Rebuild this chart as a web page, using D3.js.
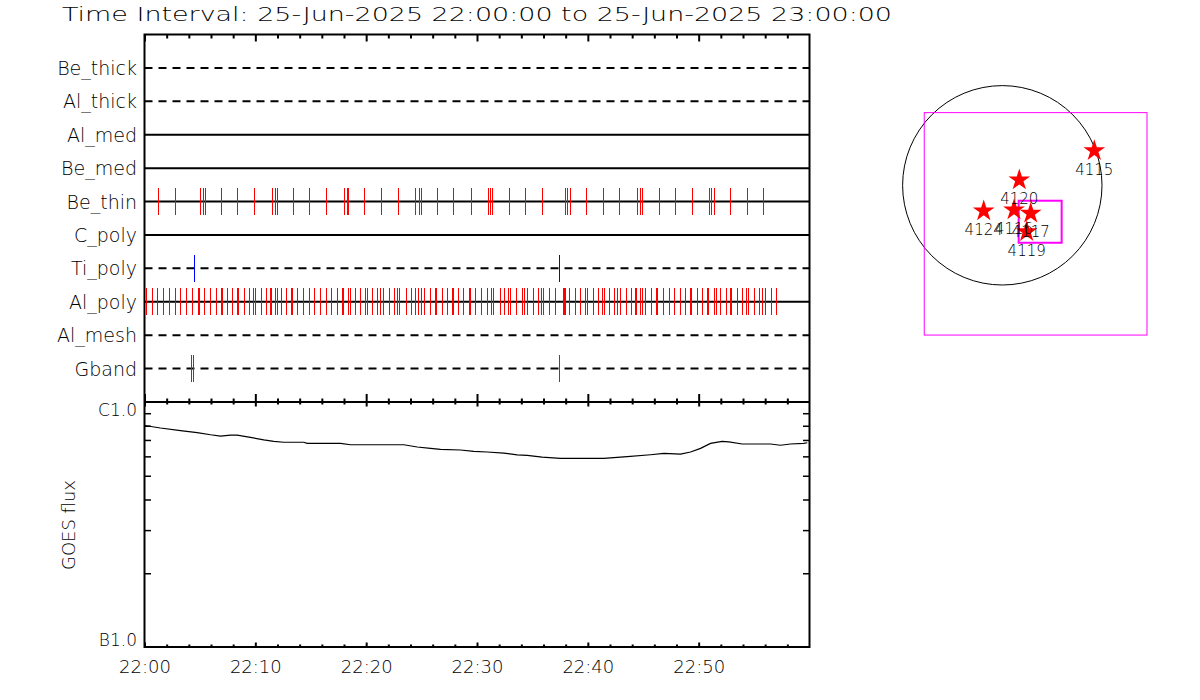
<!DOCTYPE html>
<html><head><meta charset="utf-8">
<script src="https://cdn.jsdelivr.net/npm/d3@7"></script>
<style>
body{margin:0;background:#fff;}
svg{display:block;font-family:"DejaVu Sans","Liberation Sans",sans-serif;font-weight:200;}
</style></head><body>
<svg id="chart" width="1200" height="700"></svg>
<script>
// ---------------- DATA ----------------
const titleText = "Time Interval: 25-Jun-2025 22:00:00 to 25-Jun-2025 23:00:00";
const detectorRows = ["Be_thick","Al_thick","Al_med","Be_med","Be_thin","C_poly","Ti_poly","Al_poly","Al_mesh","Gband"];
// event times, minutes after 22:00 UT
const beThinMinutes = [1.29,2.82,5.08,5.35,5.53,6.97,8.42,9.95,11.52,11.85,12.00,13.47,14.91,16.42,18.07,18.34,18.43,19.88,21.41,22.95,24.48,24.81,25.02,26.46,27.91,29.46,31.07,31.25,31.43,32.91,34.40,35.94,38.01,38.19,38.41,39.91,41.44,42.89,44.51,44.73,44.93,46.44,47.94,49.47,51.01,51.19,51.40,52.90,54.44,55.88];
const tiPolyMinutes = [4.53,37.48];
const alPolyMinutes = [0.21,0.69,1.20,1.71,2.23,2.77,3.28,3.76,4.36,4.87,4.99,5.44,5.93,6.47,6.92,7.01,7.52,7.97,8.36,8.51,9.05,9.47,9.86,10.02,10.58,11.04,11.40,11.49,11.79,11.97,12.33,12.81,13.29,13.38,13.83,14.32,14.86,15.31,15.85,16.39,16.90,17.39,17.89,17.98,18.43,18.61,19.07,19.49,19.91,20.09,20.60,21.05,21.29,21.59,22.13,22.56,22.86,23.04,23.61,24.12,24.48,24.75,24.97,25.29,25.78,26.28,26.37,26.92,27.31,27.82,27.91,28.36,28.81,29.35,29.44,29.89,30.43,30.92,30.98,31.31,31.49,32.09,32.51,32.87,33.05,33.59,34.08,34.31,34.59,35.13,35.55,35.82,36.00,36.57,37.06,37.83,37.92,38.01,38.37,38.92,39.37,39.82,39.97,40.54,40.94,41.35,41.48,41.98,42.44,42.71,42.98,43.49,43.97,44.33,44.42,44.78,44.96,45.18,45.77,46.20,46.29,46.80,47.34,47.85,48.39,48.84,49.29,49.38,49.92,50.38,50.83,50.92,51.40,51.58,52.00,52.54,52.85,52.99,53.51,53.98,54.35,54.50,55.04,55.52,55.76,56.03,56.60,57.03];
const gbandMinutes = [4.27,4.42,37.43];
// GOES flux curve
const goesMinutes = [0,1.44,3.25,4.75,5.96,6.86,7.76,8.36,9.56,10.76,11.67,12.57,14.37,14.68,17.68,18.59,23.40,24.61,25.81,26.71,28.51,29.71,30.92,32.42,33.63,34.53,35.88,37.54,41.44,43.55,45.66,46.86,48.36,49.27,50.17,51.07,52.12,52.72,53.93,56.48,57.38,58.28,59.49,59.80];
const goesFlux = [8.02e-7,7.83e-7,7.64e-7,7.50e-7,7.35e-7,7.26e-7,7.33e-7,7.33e-7,7.17e-7,7.00e-7,6.91e-7,6.85e-7,6.85e-7,6.78e-7,6.78e-7,6.69e-7,6.69e-7,6.55e-7,6.47e-7,6.41e-7,6.37e-7,6.29e-7,6.25e-7,6.19e-7,6.08e-7,6.06e-7,5.96e-7,5.89e-7,5.89e-7,5.98e-7,6.09e-7,6.17e-7,6.13e-7,6.25e-7,6.47e-7,6.78e-7,6.91e-7,6.87e-7,6.74e-7,6.74e-7,6.66e-7,6.74e-7,6.78e-7,6.82e-7];
const goesTickValues = [1e-7,1e-6];
const goesTickLabels = ["B1.0","C1.0"];
const goesMinorValues = [2e-7,3e-7,4e-7,5e-7,6e-7,7e-7,8e-7,9e-7];
const xTickLabels = ["22:00","22:10","22:20","22:30","22:40","22:50"];
const yAxisTitle = "GOES flux";
// solar map (arcsec)
const solarRadius = 944;
const arNumbers = ["4115","4120","4124","4116","4117","4119"];
const arX = [871,161,-176,111,269,231];
const arY = [328,50,-243,-234,-265,-439];
const fovX = [-739,1370], fovY = [688,-1418];
const subFovX = [155,562], subFovY = [-146,-544];

// ---------------- STYLE ----------------
const dashedRows = new Set(["Be_thick","Al_thick","Ti_poly","Al_mesh","Gband"]);
const RED = "#ff0000", BLUE = "#0000ff", MAGENTA = "#ff00ff";
const rowEvents = [
  {row:"Be_thin", times:beThinMinutes, color:RED},
  {row:"Ti_poly", times:tiPolyMinutes, color:BLUE},
  {row:"Al_poly", times:alPolyMinutes, color:RED},
  {row:"Gband",   times:gbandMinutes,  color:RED}
];

// ---------------- DRAW ----------------
const svg = d3.select("#chart");
const t0 = new Date(Date.UTC(2025,5,25,22,0,0));
const t1 = new Date(Date.UTC(2025,5,25,23,0,0));
const tm = m => new Date(t0.getTime() + m*60000);
const L = 144.5, R = 809.5, TOP = 34.5, MID = 402, BOT = 647;

const x = d3.scaleUtc().domain([t0,t1]).range([L,R]);
const yRow = d3.scalePoint().domain(detectorRows).range([TOP,MID]).padding(1);
const yG = d3.scaleLog().domain([1e-7,1e-6]).range([BOT,MID]);
const crisp = v => Math.round(v - 0.5) + 0.5;

// title
svg.append("text").attr("x",62).attr("y",21).attr("font-size",20)
  .attr("textLength",830).attr("lengthAdjust","spacingAndGlyphs")
  .text(titleText);

// row lines
const rows = svg.append("g");
rows.selectAll("line").data(detectorRows).join("line")
  .attr("x1",L).attr("x2",R)
  .attr("y1",d=>yRow(d)).attr("y2",d=>yRow(d))
  .attr("stroke","#000").attr("stroke-width",2)
  .attr("stroke-dasharray",d=>dashedRows.has(d)?"8,6":null);
rows.selectAll("text").data(detectorRows).join("text")
  .attr("x",137).attr("y",d=>yRow(d)+7).attr("text-anchor","end")
  .attr("font-size",19).text(d=>d);

// event ticks
const ev = svg.append("g").attr("shape-rendering","crispEdges");
rowEvents.forEach(e=>{
  ev.append("g").selectAll("line").data(e.times).join("line")
    .attr("x1",d=>crisp(x(tm(d)))).attr("x2",d=>crisp(x(tm(d))))
    .attr("y1",yRow(e.row)-13.5).attr("y2",yRow(e.row)+13.5)
    .attr("stroke",e.color).attr("stroke-width",1);
});

// time axes
const majorT = d3.utcMinute.every(10).range(t0,t1);
const minorT = d3.utcMinute.every(2).range(t0,t1).filter(d=>d.getUTCMinutes()%10!==0);
function tickAxis(gen, y, vals, size){
  svg.append("g").attr("transform",`translate(0,${y})`)
    .call(gen(x).tickValues(vals).tickSizeInner(size).tickSizeOuter(0).tickFormat(""))
    .call(g=>{g.select(".domain").remove(); g.selectAll("line").attr("stroke","#000").attr("stroke-width",2);});
}
tickAxis(d3.axisBottom, TOP, majorT, 7);
tickAxis(d3.axisBottom, TOP, minorT, 4);
tickAxis(d3.axisTop, MID, majorT, 8);
tickAxis(d3.axisTop, MID, minorT, 3.5);
tickAxis(d3.axisBottom, MID, majorT, 4.5);
tickAxis(d3.axisBottom, MID, minorT, 2.5);
tickAxis(d3.axisTop, BOT, majorT, 4.5);
tickAxis(d3.axisTop, BOT, minorT, 2.5);
svg.append("g").attr("transform",`translate(0,${BOT})`)
  .call(d3.axisBottom(x).tickValues(majorT).tickSize(0).tickPadding(13)
        .tickFormat((d,i)=>xTickLabels[i]))
  .call(g=>{
    g.attr("font-family",null).attr("font-size",null);
    g.select(".domain").remove();
    g.selectAll("text").attr("font-size",18).attr("fill","#000");
  });

// GOES log axes
function yAxis(gen, xpos){
  svg.append("g").attr("transform",`translate(${xpos},0)`)
    .call(gen(yG).tickValues(goesMinorValues).tickSizeInner(-6.5).tickSizeOuter(0).tickFormat(""))
    .call(g=>{g.select(".domain").remove(); g.selectAll("line").attr("stroke","#000").attr("stroke-width",1.5);});
}
yAxis(d3.axisLeft, L);
yAxis(d3.axisRight, R);
svg.append("g").selectAll("text").data(goesTickValues).join("text")
  .attr("x",137).attr("text-anchor","end").attr("font-size",17)
  .attr("y",(d,i)=> i===0 ? yG(d)-1 : yG(d)+14)
  .text((d,i)=>goesTickLabels[i]);
svg.append("text").attr("transform",`translate(75,525) rotate(-90)`)
  .attr("text-anchor","middle").attr("font-size",18).text(yAxisTitle);

// GOES curve
const goesPts = goesMinutes.map((m,i)=>[tm(m), goesFlux[i]]);
svg.append("path").datum(goesPts)
  .attr("d",d3.line().x(d=>x(d[0])).y(d=>yG(d[1])))
  .attr("fill","none").attr("stroke","#000").attr("stroke-width",1.2);

// frames
svg.append("rect").attr("x",L).attr("y",TOP).attr("width",R-L).attr("height",BOT-TOP)
  .attr("fill","none").attr("stroke","#000").attr("stroke-width",2);
svg.append("line").attr("x1",L).attr("x2",R).attr("y1",MID).attr("y2",MID)
  .attr("stroke","#000").attr("stroke-width",2);

// ---------------- SOLAR MAP ----------------
const cx = 1002.3, cy = 185.3, rpx = 99.7;
const mx = d3.scaleLinear().domain([-solarRadius,solarRadius]).range([cx-rpx,cx+rpx]);
const my = d3.scaleLinear().domain([-solarRadius,solarRadius]).range([cy+rpx,cy-rpx]);
const map = svg.append("g");
map.append("circle").attr("cx",mx(0)).attr("cy",my(0)).attr("r",mx(solarRadius)-mx(0))
  .attr("fill","none").attr("stroke","#000").attr("stroke-width",1);
map.append("rect").attr("x",mx(fovX[0])).attr("y",my(fovY[0]))
  .attr("width",mx(fovX[1])-mx(fovX[0])).attr("height",my(fovY[1])-my(fovY[0]))
  .attr("fill","none").attr("stroke",MAGENTA).attr("stroke-width",1);
map.append("rect").attr("x",mx(subFovX[0])).attr("y",my(subFovY[0]))
  .attr("width",mx(subFovX[1])-mx(subFovX[0])).attr("height",my(subFovY[1])-my(subFovY[0]))
  .attr("fill","none").attr("stroke",MAGENTA).attr("stroke-width",2);
const star = d3.symbol().type(d3.symbolStar).size(146);
map.append("g").selectAll("path").data(arNumbers).join("path")
  .attr("transform",(d,i)=>`translate(${mx(arX[i])},${my(arY[i])})`)
  .attr("d",star).attr("fill",RED);
map.append("g").selectAll("text").data(arNumbers).join("text")
  .attr("x",(d,i)=>mx(arX[i])).attr("y",(d,i)=>my(arY[i])+24)
  .attr("text-anchor","middle").attr("font-size",15).text(d=>d);
</script>
</body></html>
